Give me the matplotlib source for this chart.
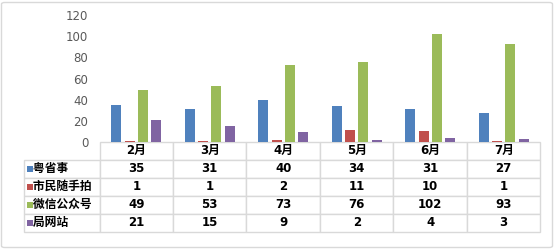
import matplotlib.pyplot as plt
from matplotlib.patches import Rectangle, FancyBboxPatch
from matplotlib.table import Table

plt.rcParams['font.family'] = ['Noto Sans CJK SC', 'DejaVu Sans']

months = ["2月", "3月", "4月", "5月", "6月", "7月"]
series_names = ["粤省事", "市民随手拍", "微信公众号", "局网站"]
yueshengshi = [35, 31, 40, 34, 31, 27]
shimin = [1, 1, 2, 11, 10, 1]
weixin = [49, 53, 73, 76, 102, 93]
juwangzhan = [21, 15, 9, 2, 4, 3]
colors = ["#4F81BD", "#C0504D", "#9BBB59", "#8064A2"]

series = [yueshengshi, shimin, weixin, juwangzhan]

W, H = 556, 250
fig = plt.figure(figsize=(W / 100, H / 100), dpi=100)

# outer border
fig.patches.append(FancyBboxPatch((1.5 / W, 2.5 / H), 551 / W, 245 / H,
                                  boxstyle="round,pad=0,rounding_size=0.006",
                                  transform=fig.transFigure, fill=False,
                                  edgecolor="#d9d9d9", linewidth=1.0))

ax_l, ax_r = 99.5, 540.5
ax_b, ax_t = 142, 15
ax = fig.add_axes([ax_l / W, 1 - ax_b / H, (ax_r - ax_l) / W, (ax_b - ax_t) / H])

step = 0.182
width = 0.137
for k, vals in enumerate(series):
    xs = [i + 0.5 + (k - 1.5) * step for i in range(len(months))]
    ax.bar(xs, vals, width=width, color=colors[k])

ax.set_xlim(0, len(months))
ax.set_ylim(0, 120)
ax.set_yticks(range(0, 121, 20))
ax.tick_params(axis="y", length=0, labelsize=8.5, labelcolor="#595959", pad=8)
for lbl in ax.get_yticklabels():
    lbl.set_family("DejaVu Sans")
ax.set_xticks([])
for s in ax.spines.values():
    s.set_visible(False)

# data table below the bars (bbox covers the grid without the row labels)
tab_l, tab_t, tab_b = 23.5, 142, 231.5
axw = ax_r - ax_l
axh = ax_b - ax_t
bbox = [0, (ax_b - tab_b) / axh, 1, (tab_b - tab_t) / axh]
label_w = (ax_l - tab_l) / axw
col_w = 1 / len(months)
row_h = (tab_b - tab_t) / axh / (len(series) + 1)

tab = Table(ax, bbox=bbox)
tab.auto_set_font_size(False)
num_font = ["DejaVu Sans", "Noto Sans CJK SC"]
for j, m in enumerate(months):
    tab.add_cell(0, j, col_w, row_h, text=m, loc="center")
for i, name in enumerate(series_names):
    tab.add_cell(i + 1, -1, label_w, row_h, text="   " + name, loc="left")
    for j, v in enumerate(series[i]):
        tab.add_cell(i + 1, j, col_w, row_h, text=str(v), loc="center")
for (r, c), cell in tab.get_celld().items():
    cell.set_edgecolor("#d9d9d9")
    cell.set_linewidth(1.0)
    t = cell.get_text()
    t.set_fontsize(8.5)
    t.set_fontweight("bold")
    if c == -1:
        t.set_family(["Noto Sans CJK SC", "DejaVu Sans"])
        cell.PAD = 0.02
    else:
        t.set_family(num_font)
ax.add_table(tab)

# legend keys in the row labels
rh_px = (tab_b - tab_t) / (len(series) + 1)
for k in range(len(series)):
    yc = tab_t + rh_px * (k + 1.5)
    fig.patches.append(Rectangle((27 / W, 1 - (yc + 3) / H), 6 / W, 6 / H,
                                 transform=fig.transFigure,
                                 facecolor=colors[k], edgecolor="none"))

fig.savefig("out.png", dpi=100)
